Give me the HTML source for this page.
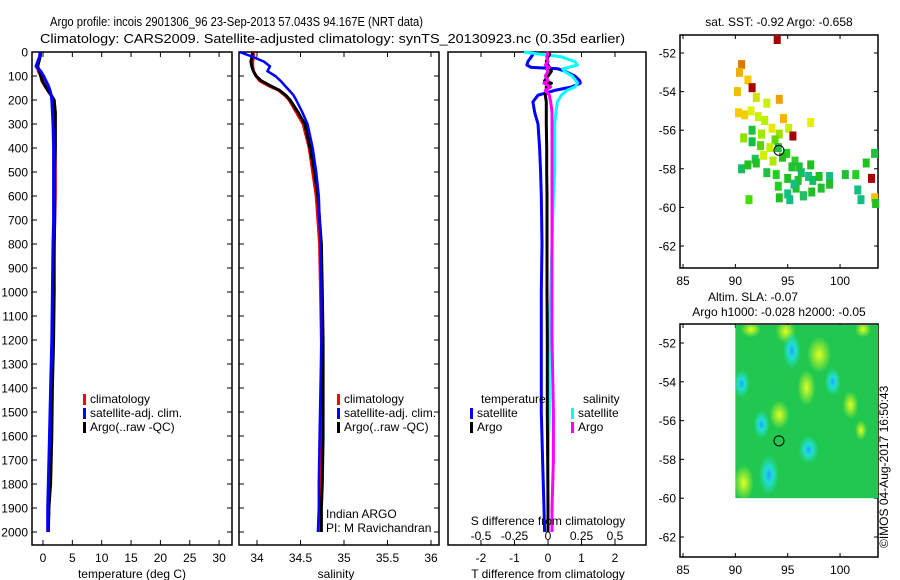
<!DOCTYPE html>
<html><head><meta charset="utf-8">
<style>
html,body{margin:0;padding:0;background:#fff;}
svg{display:block;font-family:"Liberation Sans",sans-serif;}
</style></head>
<body>
<svg id="fig" width="900" height="580" viewBox="0 0 900 580" xmlns="http://www.w3.org/2000/svg">
<text x="50" y="26" font-size="13" textLength="373" lengthAdjust="spacingAndGlyphs">Argo profile: incois 2901306_96 23-Sep-2013 57.043S 94.167E (NRT data)</text>
<text x="40" y="43" font-size="13" textLength="585" lengthAdjust="spacingAndGlyphs">Climatology: CARS2009. Satellite-adjusted climatology: synTS_20130923.nc (0.35d earlier)</text>
<g id="g"></g>
<text transform="translate(888,548) rotate(-90)" font-size="12">©IMOS 04-Aug-2017 16:50:43</text>
</svg>
<script>
// ---- data ----
const depths = [0,20,40,60,80,100,120,140,160,180,200,250,300,400,500,600,700,800,1000,1200,1400,1600,1800,1900,2000];
const depthsD = [0,10,20,40,54,64,70,80,100,120,130,146,160,180,208,250,300,400,500,600,800,1000,1200,1500,1700,1900,2000];
const tempClim = [-0.4,-0.5,-0.7,-1.0,-0.8,-0.4,-0.2,0.3,0.8,1.4,1.8,2.1,2.1,2.1,2.1,2.1,2.0,1.9,1.8,1.6,1.5,1.3,1.1,1.0,0.9];
const tempSat  = [-0.5,-0.6,-0.9,-1.2,-0.4,0.1,0.5,0.9,1.2,1.4,1.5,1.6,1.7,1.8,1.8,1.8,1.8,1.7,1.6,1.5,1.3,1.1,0.9,0.8,0.8];
const tempArgo = [-0.4,-0.5,-0.7,-0.9,-0.6,-0.4,-0.1,0.3,0.8,1.4,1.9,2.1,2.1,2.1,2.0,2.0,2.0,1.9,1.9,1.8,1.6,1.5,1.3,1.0,0.9];
const salClim = [33.96,33.96,33.95,33.95,33.96,33.99,34.03,34.13,34.25,34.32,34.37,34.45,34.53,34.60,34.64,34.68,34.70,34.72,34.73,34.74,34.74,34.74,34.73,34.72,34.71];
const salSat  = [33.80,33.95,34.08,34.15,34.12,34.21,34.27,34.32,34.37,34.42,34.45,34.52,34.58,34.64,34.68,34.71,34.72,34.73,34.74,34.74,34.73,34.72,34.71,34.71,34.70];
const salArgo = [33.95,33.94,33.93,33.94,33.96,33.99,34.05,34.15,34.26,34.33,34.38,34.47,34.55,34.61,34.66,34.70,34.72,34.74,34.75,34.76,34.76,34.76,34.75,34.74,34.74];
// difference profiles on depthsD
const dTsat  = [-0.35,-0.45,-0.5,-0.6,-0.63,-0.5,0.3,0.5,0.8,0.95,0.96,0.7,0.2,-0.3,-0.45,-0.4,-0.3,-0.25,-0.22,-0.2,-0.18,-0.2,-0.2,-0.2,-0.16,-0.12,-0.1];
const dTargo = [0.0,0.05,0.0,-0.05,0.0,0.05,-0.05,0.1,0.0,-0.1,0.1,-0.05,-0.05,-0.08,-0.05,-0.05,-0.05,-0.04,-0.04,-0.03,-0.03,-0.03,-0.02,-0.02,-0.01,0.0,0.0];
const dSsat  = [-0.18,-0.05,0.1,0.2,0.22,0.15,0.11,0.12,0.18,0.21,0.22,0.2,0.14,0.1,0.07,0.06,0.05,0.05,0.05,0.04,0.03,0.02,0.01,0.01,0.0,0.0,0.0];
const dSargo = [-0.01,0.0,-0.01,0.0,-0.02,0.01,-0.01,0.0,-0.02,0.0,-0.03,0.02,-0.02,0.01,0.02,0.03,0.03,0.03,0.03,0.03,0.03,0.03,0.03,0.04,0.04,0.03,0.03];
const tempTicks = [0,5,10,15,20,25,30];
const salTicks = [34,34.5,35,35.5,36];
const depthTicks = [0,100,200,300,400,500,600,700,800,900,1000,1100,1200,1300,1400,1500,1600,1700,1800,1900,2000];
const dTTicks = [-2,-1,0,1,2];
const dSTicks = [-0.5,-0.25,0,0.25,0.5];
const dSLabels = ['-0.5','-0.25','0','0.25','0.5'];
const lonTicks = [85,90,95,100];
const latTicks = [-52,-54,-56,-58,-60,-62];
// SST obs: [lon, lat, colour]
const sstLon = [94,90.6,90.4,91.2,91.6,90.2,92,93,94.2,94.6,97.2,90.3,90.9,91.5,92.2,92.8,93.5,94.2,95.1,95.5,92.5,93.8,90.8,91.6,92.4,93.3,94.1,94.9,95.7,96.1,97.2,91.9,92.7,93.6,94.5,95.4,96.3,90.6,91.2,92.0,93.0,93.9,95,96,97,98,99,100.5,101.5,102.5,103.3,94.1,95,95.8,96.5,97.3,98.2,99,96.5,95.2,94.2,91.3,95.6,97.4,101.7,103,103.3,102,103.4,91.6];
const sstLat = [-51.3,-52.6,-53,-53.4,-53.8,-54,-54.3,-54.6,-54.4,-55.4,-55.6,-55.1,-55.2,-55.0,-55.3,-55.5,-55.9,-56.2,-55.9,-56.3,-56.2,-56.5,-56.4,-56.6,-56.8,-56.9,-56.9,-57.2,-57.6,-57.9,-57.8,-57.5,-57.3,-57.6,-57.4,-57.9,-58.2,-58.0,-57.8,-57.7,-58.2,-58.3,-58.5,-58.6,-58.4,-58.4,-58.4,-58.3,-58.3,-57.7,-57.2,-58.9,-59.3,-59.0,-59.4,-59.2,-59.0,-58.8,-59.4,-59.6,-59.5,-59.6,-58.8,-58.6,-59.1,-58.5,-59.5,-59.6,-59.8,-56.0];
const sstCol = ['#a80000','#e07800','#f0b000','#ffc800','#a80000','#f0c000','#d0e000','#c8f000','#f0a000','#ffb000','#e8f000','#ffc800','#f0d000','#e0f000','#c8f000','#b8f000','#e8e800','#a0e000','#c8f000','#a80000','#a0e800','#60d800','#90e000','#10c040','#60d000','#c0f000','#20c040','#20d020','#30c830','#20c030','#20c020','#20c060','#d0f000','#b0e800','#20c020','#20c030','#10c060','#10c060','#20c020','#20c020','#20c040','#20d020','#20c020','#20c030','#10c080','#20c020','#10c080','#20c030','#20d020','#20c020','#20c040','#20d020','#10c080','#20c020','#20c020','#20c020','#20c030','#20c020','#20c060','#10c080','#20c020','#40e000','#10c080','#10c060','#10c080','#a80000','#f0c000','#10c080','#20c020','#20c040'];

const NS='http://www.w3.org/2000/svg';
const G=document.getElementById('g');
function el(tag,attrs,parent){const e=document.createElementNS(NS,tag);for(const k in attrs)e.setAttribute(k,attrs[k]);(parent||G).appendChild(e);return e;}
function txt(x,y,s,size,anchor,name){const t=el('text',{x:x,y:y,'font-size':size,'text-anchor':anchor||'start'});t.textContent=s;


return t;}

const yD=d=>52+d*0.24;
const TOP=52,BOT=545;
const xT=v=>43+v*5.87;
const xS=v=>257+(v-34)*87;
const xdT=v=>548+v*33.5;
const xdS=v=>548+v*134;

function frame(x0,x1,name){const r=el('rect',{x:x0,y:TOP,width:x1-x0,height:BOT-TOP,fill:'none',stroke:'#000','stroke-width':1.5});

}
function xticks(vals,fx,lblY,name){vals.forEach(v=>{const x=fx(v);
el('line',{x1:x,x2:x,y1:BOT,y2:BOT-5,stroke:'#000'});el('line',{x1:x,x2:x,y1:TOP,y2:TOP+5,stroke:'#000'});
if(lblY)txt(x,lblY,String(v),12,'middle',name);});}
function series(vals,fx,color,w,name,dep){const dd=dep||depths;const pts=vals.map((v,i)=>fx(v).toFixed(1)+','+yD(dd[i]).toFixed(1)).join(' ');
const p=el('polyline',{points:pts,fill:'none',stroke:color,'stroke-width':w,'stroke-linejoin':'round'});

}

// Panel 1 temperature
frame(32,232,'temperature-panel');
depthTicks.forEach(d=>{const y=yD(d);el('line',{x1:32,x2:37,y1:y,y2:y,stroke:'#000'});el('line',{x1:227,x2:232,y1:y,y2:y,stroke:'#000'});
el('line',{x1:239,x2:244,y1:y,y2:y,stroke:'#000'});el('line',{x1:434,x2:439,y1:y,y2:y,stroke:'#000'});
txt(28,y+4.5,String(d),12,'end','depth-tick-label');});
xticks(tempTicks,xT,562,'temperature-tick-label');
series(tempClim,xT,'#f00',3,'temperature-climatology-line');
series(tempArgo,xT,'#000',3,'temperature-argo-line');
series(tempSat,xT,'#00f',3,'temperature-satellite-line');
txt(132,578,'temperature (deg C)',12,'middle','temperature-axis-title');
function legend(x,y,items,prefix){items.forEach((it,i)=>{const r=el('rect',{x:x,y:y+i*14-9,width:3,height:11,fill:it[1]});


txt(x+7,y+i*14,it[0],12,'start',prefix+'-label');});}
legend(83,403,[['climatology','#f00'],['satellite-adj. clim.','#00f'],['Argo(..raw -QC)','#000']],'temperature-legend');

// Panel 2 salinity
frame(239,439,'salinity-panel');
xticks(salTicks,xS,562,'salinity-tick-label');
series(salClim,xS,'#f00',3,'salinity-climatology-line');
series(salArgo,xS,'#000',3,'salinity-argo-line');
series(salSat,xS,'#00f',2.5,'salinity-satellite-line');
txt(336,578,'salinity',12,'middle','salinity-axis-title');
legend(337,403,[['climatology','#f00'],['satellite-adj. clim.','#00f'],['Argo(..raw -QC)','#000']],'salinity-legend');
txt(326,518,'Indian ARGO',12,'start','institution-label');
txt(326,532,'PI: M Ravichandran',12,'start','pi-label');

// Panel 3 differences
frame(448,646,'difference-panel');
xticks(dTTicks,xdT,562,'t-difference-tick-label');
dSTicks.forEach((v,i)=>{txt(xdS(v),540,dSLabels[i],12,'middle','s-difference-tick-label');});
series(dTsat,xdT,'#00f',3,'t-diff-satellite-line',depthsD);
series(dSsat,xdS,'#0ff',3,'s-diff-satellite-line',depthsD);
series(dTargo,xdT,'#000',3,'t-diff-argo-line',depthsD);
series(dSargo,xdS,'#f0f',3,'s-diff-argo-line',depthsD);
txt(548,578,'T difference from climatology',12,'middle','t-difference-axis-title');
txt(548,525,'S difference from climatology',12,'middle','s-difference-axis-title');
txt(481,403,'temperature',12,'start','diff-legend-temperature-header');
txt(583,403,'salinity',12,'start','diff-legend-salinity-header');
legend(470,417,[['satellite','#00f'],['Argo','#000']],'diff-legend-temperature');
legend(571,417,[['satellite','#0ff'],['Argo','#f0f']],'diff-legend-salinity');

// Maps
function mapAxes(top,bot,lat52,latScale,name){
 const xL=v=>683+(v-85)*10.47;
 const r=el('rect',{x:680,y:top,width:198,height:bot-top,fill:'none',stroke:'#000','stroke-width':1.5});
 
 
 lonTicks.forEach(v=>{const x=xL(v);el('line',{x1:x,x2:x,y1:top,y2:top+4,stroke:'#000'});el('line',{x1:x,x2:x,y1:bot,y2:bot-4,stroke:'#000'});
  txt(x,bot+17,String(v),12,'middle','longitude-tick-label');});
 const yL=v=>lat52+(-52-v)*latScale;
 latTicks.forEach(v=>{const y=yL(v);el('line',{x1:680,x2:684,y1:y,y2:y,stroke:'#000'});el('line',{x1:878,x2:874,y1:y,y2:y,stroke:'#000'});
  txt(676,y+4.5,String(v),12,'end','latitude-tick-label');});
 return [xL,yL];
}
// top map
const [xL1,yL1]=mapAxes(35,268,53,19.3,'sst-map');
sstLon.forEach((lo,i)=>{const x=xL1(lo),y=yL1(sstLat[i]);
 const r=el('rect',{x:(x-3.5).toFixed(1),y:(y-4.5).toFixed(1),width:7,height:9,fill:sstCol[i]});
 
 });
el('circle',{cx:xL1(94.167),cy:yL1(-57.043),r:5,fill:'none',stroke:'#000'});
txt(779,26,'sat. SST: -0.92  Argo: -0.658',12,'middle','sst-map-title');

// bottom map
const [xL2,yL2]=mapAxes(324,557,343,19.4,'sla-map');
const defs=el('defs',{});
const rg=el('radialGradient',{id:'blob'},defs);el('stop',{offset:'0','stop-color':'#e0ff20'},rg);el('stop',{offset:'1','stop-color':'#e0ff20','stop-opacity':'0'},rg);
const rb=el('radialGradient',{id:'cyan'},defs);el('stop',{offset:'0','stop-color':'#20a0ff'},rb);el('stop',{offset:'0.4','stop-color':'#20e0d0'},rb);el('stop',{offset:'1','stop-color':'#20e0d0','stop-opacity':'0'},rb);
const clip=el('clipPath',{id:'slaclip'},defs);
el('rect',{x:xL2(90),y:325,width:878-xL2(90),height:yL2(-60)-325},clip);
const sla=el('rect',{x:xL2(90),y:325,width:878-xL2(90),height:yL2(-60)-325,fill:'#20c850'});


const blobs=el('g',{'clip-path':'url(#slaclip)'});
[[98,-52.6,'blob',12,18],[96.8,-54.3,'blob',9,18],[94.2,-55.7,'blob',10,14],[90.8,-59.2,'blob',10,18],[94.8,-51.4,'blob',10,12],[91.5,-51.3,'blob',10,8],[101,-55.2,'blob',8,14],[95.4,-52.4,'cyan',9,18],[93.2,-58.8,'cyan',10,20],[90.6,-54.1,'cyan',8,14],[99.3,-54,'cyan',8,14],[102,-56.5,'blob',6,10],[92.5,-56.2,'cyan',8,14],[97,-57.5,'cyan',10,14],[102.2,-51.3,'blob',8,8]].forEach(b=>{
 const e=el('ellipse',{cx:xL2(b[0]),cy:yL2(b[1]),rx:b[3],ry:b[4],fill:'url(#'+b[2]+')'},blobs);
 
 });
el('circle',{cx:xL2(94.167),cy:yL2(-57.043),r:5,fill:'none',stroke:'#000'});
txt(753,301,'Altim. SLA: -0.07',12,'middle','sla-map-title');
txt(779,316,'Argo h1000: -0.028 h2000: -0.05',12,'middle','argo-height-title');
</script>
</body></html>
